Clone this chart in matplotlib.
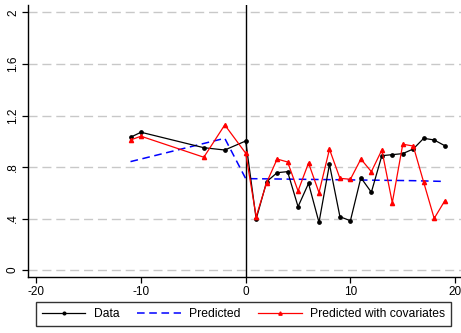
import matplotlib
matplotlib.use("Agg")
import matplotlib.pyplot as plt

plt.rcParams['font.family'] = ['Liberation Sans', 'DejaVu Sans']

# event time (periods relative to treatment)
periods = [-11, -10, -4, -2, 0, 1, 2, 3, 4, 5, 6, 7, 8, 9, 10,
           11, 12, 13, 14, 15, 16, 17, 18, 19]

observed = [1.031, 1.070, 0.950, 0.932, 1.002,
            0.396, 0.686, 0.756, 0.764, 0.492, 0.673, 0.370, 0.821, 0.414, 0.383,
            0.717, 0.604, 0.888, 0.896, 0.904, 0.940, 1.023, 1.010, 0.966]

predicted = [0.842, 0.862, 0.983, 1.023, 0.710,
             0.709, 0.708, 0.707, 0.706, 0.705, 0.704, 0.703, 0.702, 0.701, 0.700,
             0.699, 0.698, 0.697, 0.696, 0.695, 0.694, 0.692, 0.690, 0.688]

predicted_cov = [1.010, 1.039, 0.876, 1.127, 0.907,
                 0.414, 0.679, 0.862, 0.839, 0.614, 0.831, 0.601, 0.938, 0.712, 0.705,
                 0.862, 0.764, 0.932, 0.523, 0.977, 0.963, 0.681, 0.401, 0.536]

xticks = [-20, -10, 0, 10, 20]
yticks = [0, 0.4, 0.8, 1.2, 1.6, 2]
ytick_labels = ["0", ".4", ".8", "1.2", "1.6", "2"]

W, H = 461, 333
fig = plt.figure(figsize=(W / 100, H / 100), dpi=100)
left, right, top, bottom = 28, 463.4, 5, 277
ax = fig.add_axes([left / W, 1 - bottom / H, (right - left) / W, (bottom - top) / H])

ax.set_xlim(-20.79, 20.79)
ax.set_ylim(-0.054, 2.058)

for yv in yticks:
    ax.axhline(yv, color='#c8c8c8', lw=1.0, linestyle=(0, (6.5, 3.5)), zorder=0)
ax.axvline(0, color='black', lw=1.0, zorder=1)

ax.plot(periods, observed, color='black', lw=0.9, marker='o', markersize=2.4,
        label='Data', zorder=4)
ax.plot(periods, predicted, color='#0000ff', lw=1.1, linestyle=(0, (5, 3)),
        label='Predicted', zorder=3)
ax.plot(periods, predicted_cov, color='#ff0000', lw=0.9, marker='^', markersize=3.0,
        label='Predicted with covariates', zorder=5)

for side in ('top', 'right'):
    ax.spines[side].set_visible(False)
for side in ('left', 'bottom'):
    ax.spines[side].set_linewidth(1.0)

ax.set_xticks(xticks)
ax.set_xticklabels([str(v) for v in xticks], fontsize=8.5)
ax.set_yticks(yticks)
ax.set_yticklabels(ytick_labels, fontsize=8.5, rotation=90, va='center')
ax.tick_params(axis='both', length=4.5, width=0.9, color='black', pad=2)

leg = fig.legend(loc='center', bbox_to_anchor=(243.5 / W, 1 - 314 / H),
                 ncol=3, fontsize=8.7, frameon=True, fancybox=False,
                 edgecolor='black', handlelength=3.6, handletextpad=0.7,
                 columnspacing=1.45, borderpad=0.5, borderaxespad=0,
                 markerscale=0.8, numpoints=1)
leg.get_frame().set_linewidth(1.0)

fig.savefig('out.png', dpi=100, facecolor='white')
